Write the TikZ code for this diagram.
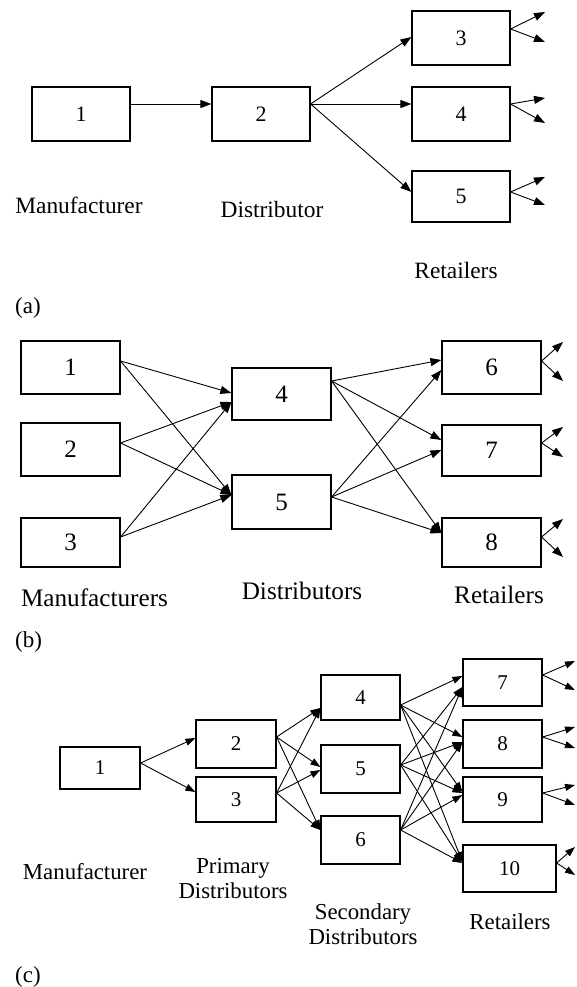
\documentclass[tikz,border=0pt]{standalone}
\usepackage{fontspec}
\setmainfont{Liberation Serif}
\usetikzlibrary{arrows.meta}
\begin{document}
\begin{tikzpicture}[x=1pt,y=-1pt,
  box/.style={draw, line width=1.2pt, inner sep=0pt},
  dga/.style={font=\fontsize{22}{26}\selectfont},
  dgb/.style={font=\fontsize{25}{29}\selectfont},
  dgc/.style={font=\fontsize{21}{25}\selectfont},
  lbl/.style={anchor=base, inner sep=0pt},
  lba/.style={lbl, font=\fontsize{23.4}{27}\selectfont},
  lbb/.style={lbl, font=\fontsize{25.2}{29}\selectfont},
  lbc/.style={lbl, font=\fontsize{22.8}{24}\selectfont},
  tag/.style={anchor=base west, inner sep=0pt, font=\fontsize{23}{27}\selectfont},
  arr/.style={line width=0.9pt, -{Triangle[length=11pt,width=8pt]}},
  arrc/.style={line width=0.9pt, -{Triangle[length=10pt,width=7pt]}},
]
\useasboundingbox[fill=white] (0,0) rectangle (577,987);

% ---------------- (a) ----------------
\node[box, dga, minimum width=98pt, minimum height=54pt] (a1) at (81,114) {1};
\node[box, dga, minimum width=98pt, minimum height=54pt] (a2) at (261,114) {2};
\node[box, dga, minimum width=98pt, minimum height=54pt] (a3) at (461,38) {3};
\node[box, dga, minimum width=98pt, minimum height=54pt] (a4) at (461,114) {4};
\node[box, dga, minimum width=98pt, minimum height=51pt] (a5) at (461,196.5) {5};

\draw[arr] ([yshift=10pt]a1.east) -- ([yshift=10pt]a2.west);
\draw[arr] ([yshift=10pt]a2.east) -- ([yshift=1pt]a3.west);
\draw[arr] ([yshift=10pt]a2.east) -- ([yshift=10pt]a4.west);
\draw[arr] ([yshift=10pt]a2.east) -- ([yshift=4.5pt]a5.west);

\coordinate (a3u) at (545,12);  \coordinate (a3d) at (545,42);
\coordinate (a4u) at (545,98);  \coordinate (a4d) at (545,123);
\coordinate (a5u) at (545,177); \coordinate (a5d) at (545,205);
\draw[arr] ([yshift=9pt]a3.east) -- (a3u);
\draw[arr] ([yshift=9pt]a3.east) -- (a3d);
\draw[arr] ([yshift=10pt]a4.east) -- (a4u);
\draw[arr] ([yshift=10pt]a4.east) -- (a4d);
\draw[arr] ([yshift=4.5pt]a5.east) -- (a5u);
\draw[arr] ([yshift=4.5pt]a5.east) -- (a5d);

\node[lba] (la1) at (79,213) {Manufacturer};
\node[lba] (la2) at (272,217) {Distributor};
\node[lba] (la3) at (456,278) {Retailers};
\node[tag] (ta) at (15,313) {(a)};

% ---------------- (b) ----------------
\node[box, dgb, minimum width=99pt, minimum height=53pt] (b1) at (70.5,367.5) {1};
\node[box, dgb, minimum width=99pt, minimum height=53pt] (b2) at (70.5,449.5) {2};
\node[box, dgb, minimum width=99pt, minimum height=49pt] (b3) at (70.5,542.5) {3};
\node[box, dgb, minimum width=99pt, minimum height=52pt] (b4) at (281.5,394) {4};
\node[box, dgb, minimum width=99pt, minimum height=54pt] (b5) at (281.5,502) {5};
\node[box, dgb, minimum width=99pt, minimum height=53pt] (b6) at (491.5,367.5) {6};
\node[box, dgb, minimum width=99pt, minimum height=51pt] (b7) at (491.5,450.5) {7};
\node[box, dgb, minimum width=99pt, minimum height=49pt] (b8) at (491.5,542.5) {8};

\draw[arr] ([yshift=6.5pt]b1.east) -- ([yshift=1pt]b4.west);
\draw[arr] ([yshift=6.5pt]b1.east) -- ([yshift=7pt]b5.west);
\draw[arr] ([yshift=6.5pt]b2.east) -- ([yshift=-8pt]b4.west);
\draw[arr] ([yshift=6.5pt]b2.east) -- ([yshift=7pt]b5.west);
\draw[arr] ([yshift=5.5pt]b3.east) -- ([yshift=-8pt]b4.west);
\draw[arr] ([yshift=5.5pt]b3.east) -- ([yshift=7pt]b5.west);

\draw[arr] ([yshift=13pt]b4.east) -- ([yshift=7.5pt]b6.west);
\draw[arr] ([yshift=13pt]b4.east) -- ([yshift=10.5pt]b7.west);
\draw[arr] ([yshift=13pt]b4.east) -- ([yshift=9.5pt]b8.west);
\draw[arr] ([yshift=5pt]b5.east) -- ([yshift=-2.5pt]b6.west);
\draw[arr] ([yshift=5pt]b5.east) -- ([yshift=0.5pt]b7.west);
\draw[arr] ([yshift=5pt]b5.east) -- ([yshift=9.5pt]b8.west);

\coordinate (b6u) at (563,342); \coordinate (b6d) at (563,381);
\coordinate (b7u) at (563,427); \coordinate (b7d) at (563,457);
\coordinate (b8u) at (563,519); \coordinate (b8d) at (563,557);
\draw[arr] ([yshift=6.5pt]b6.east) -- (b6u);
\draw[arr] ([yshift=6.5pt]b6.east) -- (b6d);
\draw[arr] ([yshift=7.5pt]b7.east) -- (b7u);
\draw[arr] ([yshift=7.5pt]b7.east) -- (b7d);
\draw[arr] ([yshift=5.5pt]b8.east) -- (b8u);
\draw[arr] ([yshift=5.5pt]b8.east) -- (b8d);

\node[lbb] (lb1) at (94.5,606) {Manufacturers};
\node[lbb] (lb2) at (302,599) {Distributors};
\node[lbb] (lb3) at (499,603) {Retailers};
\node[tag] (tb) at (15,647) {(b)};

% ---------------- (c) ----------------
\node[box, dgc, minimum width=80pt, minimum height=42pt] (c1) at (100,768) {1};
\node[box, dgc, minimum width=80pt, minimum height=48pt] (c2) at (236,744) {2};
\node[box, dgc, minimum width=80pt, minimum height=45pt] (c3) at (236,799.5) {3};
\node[box, dgc, minimum width=79pt, minimum height=45pt] (c4) at (360.5,697.5) {4};
\node[box, dgc, minimum width=79pt, minimum height=48pt] (c5) at (360.5,769) {5};
\node[box, dgc, minimum width=79pt, minimum height=48pt] (c6) at (360.5,840) {6};
\node[box, dgc, minimum width=79pt, minimum height=47pt] (c7) at (502.5,682.5) {7};
\node[box, dgc, minimum width=79pt, minimum height=48pt] (c8) at (502.5,744) {8};
\node[box, dgc, minimum width=79pt, minimum height=45pt] (c9) at (502.5,799.5) {9};
\node[box, dgc, minimum width=93pt, minimum height=47pt] (c10) at (509.5,868.5) {10};

\draw[arrc] ([yshift=5pt]c1.east) -- ([yshift=6pt]c2.west);
\draw[arrc] ([yshift=5pt]c1.east) -- ([yshift=7.5pt]c3.west);

\draw[arrc] ([yshift=7pt]c2.east) -- ([yshift=-10.5pt]c4.west);
\draw[arrc] ([yshift=7pt]c2.east) -- ([yshift=2pt]c5.west);
\draw[arrc] ([yshift=7pt]c2.east) -- ([yshift=10pt]c6.west);
\draw[arrc] ([yshift=6.5pt]c3.east) -- ([yshift=-10.5pt]c4.west);
\draw[arrc] ([yshift=6.5pt]c3.east) -- ([yshift=-1pt]c5.west);
\draw[arrc] ([yshift=6.5pt]c3.east) -- ([yshift=10pt]c6.west);

\draw[arrc] ([yshift=-7.5pt]c4.east) -- ([yshift=6.5pt]c7.west);
\draw[arrc] ([yshift=-7.5pt]c4.east) -- ([yshift=7pt]c8.west);
\draw[arrc] ([yshift=-7.5pt]c4.east) -- ([yshift=7.5pt]c9.west);
\draw[arrc] ([yshift=-7.5pt]c4.east) -- ([yshift=6.5pt]c10.west);
\draw[arrc] ([yshift=4pt]c5.east) -- ([yshift=-4.5pt]c7.west);
\draw[arrc] ([yshift=4pt]c5.east) -- ([yshift=2pt]c8.west);
\draw[arrc] ([yshift=4pt]c5.east) -- ([yshift=6.5pt]c9.west);
\draw[arrc] ([yshift=4pt]c5.east) -- ([yshift=6.5pt]c10.west);
\draw[arrc] ([yshift=10pt]c6.east) -- ([yshift=-4.5pt]c7.west);
\draw[arrc] ([yshift=10pt]c6.east) -- ([yshift=2pt]c8.west);
\draw[arrc] ([yshift=10pt]c6.east) -- ([yshift=4.5pt]c9.west);
\draw[arrc] ([yshift=10pt]c6.east) -- ([yshift=5.5pt]c10.west);

\coordinate (c7u) at (575,661);  \coordinate (c7d) at (575,690);
\coordinate (c8u) at (575,727);  \coordinate (c8d) at (575,748);
\coordinate (c9u) at (575,785);  \coordinate (c9d) at (575,805);
\coordinate (c10u) at (575,847); \coordinate (c10d) at (575,875);
\draw[arrc] ([yshift=7.5pt]c7.east) -- (c7u);
\draw[arrc] ([yshift=7.5pt]c7.east) -- (c7d);
\draw[arrc] ([yshift=7pt]c8.east) -- (c8u);
\draw[arrc] ([yshift=7pt]c8.east) -- (c8d);
\draw[arrc] ([yshift=6.5pt]c9.east) -- (c9u);
\draw[arrc] ([yshift=6.5pt]c9.east) -- (c9d);
\draw[arrc] ([yshift=5.5pt]c10.east) -- (c10u);
\draw[arrc] ([yshift=5.5pt]c10.east) -- (c10d);

\node[lbc] (lc1) at (85,879) {Manufacturer};
\node[lbc] (lc2) at (233,873) {Primary};
\node[lbc] (lc3) at (233,898) {Distributors};
\node[lbc] (lc4) at (363,919) {Secondary};
\node[lbc] (lc5) at (363,944) {Distributors};
\node[lbc] (lc6) at (510,929) {Retailers};
\node[tag] (tc) at (15,982) {(c)};
\end{tikzpicture}
\end{document}
